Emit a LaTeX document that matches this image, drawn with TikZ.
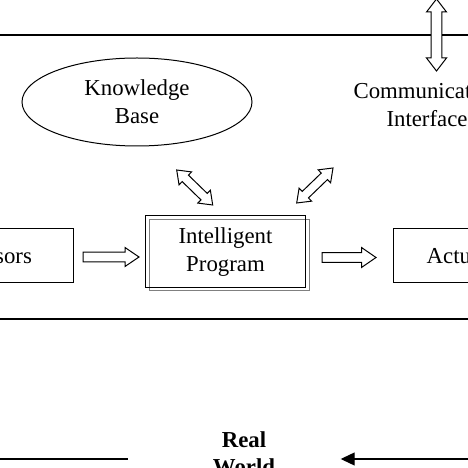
\documentclass[tikz,border=0pt]{standalone}
\usepackage{fontspec}
\setmainfont{Liberation Serif}
\usetikzlibrary{calc,arrows.meta,shapes.geometric}
\newcommand{\dblarrow}[5]{% start, end, head length, head half width, shaft half width
  \draw[blockarrow] (#1)
    -- ($(#1)!#3!(#2)!#4!90:(#2)$)
    -- ($(#1)!#3!(#2)!#5!90:(#2)$)
    -- ($(#2)!#3!(#1)!#5!-90:(#1)$)
    -- ($(#2)!#3!(#1)!#4!-90:(#1)$)
    -- (#2)
    -- ($(#2)!#3!(#1)!#4!90:(#1)$)
    -- ($(#2)!#3!(#1)!#5!90:(#1)$)
    -- ($(#1)!#3!(#2)!#5!-90:(#2)$)
    -- ($(#1)!#3!(#2)!#4!-90:(#2)$)
    -- cycle;}
\newcommand{\sglarrow}[5]{%
  \draw[blockarrow] ($(#1)!#5!90:(#2)$)
    -- ($(#2)!#3!(#1)!#5!-90:(#1)$)
    -- ($(#2)!#3!(#1)!#4!-90:(#1)$)
    -- (#2)
    -- ($(#2)!#3!(#1)!#4!90:(#1)$)
    -- ($(#2)!#3!(#1)!#5!90:(#1)$)
    -- ($(#1)!#5!-90:(#2)$)
    -- cycle;}
\tikzset{
  txt/.style={font=\fontsize{22.8}{28}\selectfont, align=center},
  boxnode/.style={draw, line width=1pt, txt},
  blockarrow/.style={draw, fill=white, line width=1pt, line join=miter},
  rule/.style={line width=1.2pt}
}
\begin{document}
\begin{tikzpicture}[x=1pt,y=1pt]
\useasboundingbox (0,0) rectangle (468,468);
\clip (0,0) rectangle (468,468);
% horizontal rules
\coordinate (tl) at (-10,433);
\coordinate (tr) at (478,433);
\draw[rule] (tl) -- (tr);
\coordinate (bl) at (-10,149);
\coordinate (br) at (478,149);
\draw[rule] (bl) -- (br);
% knowledge base
\node[draw, ellipse, line width=1pt, minimum width=230pt, minimum height=88pt, inner sep=0pt, txt] (kb) at (137,366) {Knowledge\\Base};
% communication interface
\node[txt] (ci) at (427,362.5) {Communication\\Interface};
% sensors
\node[boxnode, minimum width=153pt, minimum height=54pt, inner sep=0pt] (sens) at (-3.5,212) {Sensors};
% intelligent program (shadow + box)
\draw[gray, line width=1pt] (149,177) rectangle (309,248.5);
\node[boxnode, minimum width=160pt, minimum height=71.5pt, inner sep=0pt] (prog) at (225.5,216.25) {Intelligent\\Program};
% actuators
\node[boxnode, minimum width=156pt, minimum height=54pt, inner sep=0pt] (act) at (471,212) {Actuators};
% real world
\node[txt, font=\fontsize{22.8}{27}\selectfont\bfseries] (rw) at (244,14.5) {Real\\World};
% block arrows
\coordinate (ca) at (436.5,469);
\coordinate (cb) at (436.5,397);
\dblarrow{ca}{cb}{13pt}{10pt}{5.3pt}
\coordinate (ka) at (176.7,298);
\coordinate (kb2) at (212.7,263);
\dblarrow{ka}{kb2}{12pt}{9pt}{4.5pt}
\coordinate (ia) at (333,300);
\coordinate (ib) at (296.7,265);
\dblarrow{ia}{ib}{12pt}{9pt}{4.5pt}
\coordinate (sa) at (83,211);
\coordinate (sb) at (139,211);
\sglarrow{sa}{sb}{14pt}{9.5pt}{4.8pt}
\coordinate (aa) at (322,210.5);
\coordinate (ab) at (376,210.5);
\sglarrow{aa}{ab}{14.5pt}{10pt}{4.8pt}
% bottom connectors
\coordinate (l1) at (-5,9);
\coordinate (l2) at (128,9);
\draw[rule] (l1) -- (l2);
\coordinate (r1) at (473,9);
\coordinate (r2) at (340.7,9);
\draw[rule, -{Triangle[length=14pt,width=13pt]}] (r1) -- (r2);
\end{tikzpicture}
\end{document}
